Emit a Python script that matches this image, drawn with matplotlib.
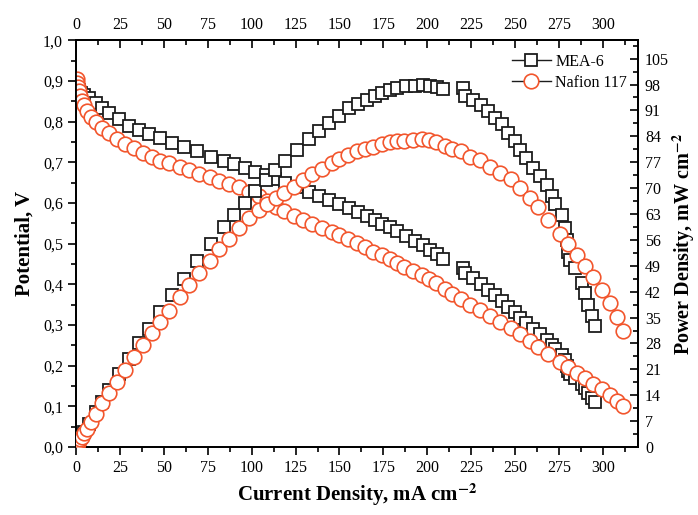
import numpy as np
import matplotlib
matplotlib.use('Agg')
import matplotlib.pyplot as plt
from matplotlib.ticker import MultipleLocator, FuncFormatter
from matplotlib.lines import Line2D

plt.rcParams['font.family'] = ['Liberation Serif', 'DejaVu Serif']
plt.rcParams['mathtext.fontset'] = 'stix'

# --- MEA-6: current density (mA cm-2), potential (V), power density (mW cm-2)
mea_i = [0.5, 1.5, 3.0, 4.6, 7.4, 11.4, 14.8, 18.8, 24.5, 30.0, 35.9, 41.6, 48.0,
         54.8, 61.6, 69.0, 77.0, 84.4, 90.0, 96.0, 102.0, 108.0, 113.5, 118.7,
         126.0, 132.9, 138.6, 144.3, 150.0, 155.7, 160.3, 165.4, 170.0, 174.5,
         178.5, 183.0, 188.0, 192.8, 197.4, 201.4, 205.4, 209.0, 220.4, 221.5,
         226.0, 230.8, 234.7, 238.5, 242.3, 246.0, 249.9, 252.7, 256.5, 260.3,
         264.1, 268.0, 270.8, 272.6, 276.5, 278.3, 279.3, 280.3, 281.2, 284.0,
         287.9, 289.8, 291.7, 293.6, 295.5]
mea_v = [0.885, 0.878, 0.871, 0.866, 0.858, 0.846, 0.834, 0.822, 0.806, 0.790,
         0.780, 0.770, 0.759, 0.748, 0.737, 0.727, 0.714, 0.704, 0.695, 0.686,
         0.677, 0.668, 0.659, 0.650, 0.638, 0.627, 0.617, 0.607, 0.597, 0.588,
         0.578, 0.568, 0.559, 0.549, 0.540, 0.530, 0.519, 0.507, 0.496, 0.485,
         0.474, 0.463, 0.441, 0.428, 0.415, 0.401, 0.387, 0.373, 0.360, 0.345,
         0.331, 0.318, 0.305, 0.290, 0.278, 0.264, 0.251, 0.241, 0.227, 0.213,
         0.200, 0.188, 0.180, 0.170, 0.154, 0.144, 0.132, 0.121, 0.111]
mea_p = [0.4, 1.3, 2.6, 4.0, 6.3, 9.6, 12.3, 15.5, 19.7, 23.7, 28.0, 32.0, 36.4,
         41.0, 45.4, 50.2, 55.0, 59.4, 62.6, 65.9, 69.1, 72.1, 74.8, 77.2, 80.4,
         83.3, 85.5, 87.6, 89.6, 91.6, 92.7, 93.9, 95.0, 95.8, 96.4, 97.0, 97.6,
         97.7, 97.9, 97.7, 97.4, 96.8, 97.2, 94.8, 93.8, 92.6, 90.8, 89.0, 87.2,
         84.9, 82.7, 80.4, 78.2, 75.5, 73.4, 70.8, 68.0, 65.7, 62.8, 59.3, 55.9,
         52.7, 50.6, 48.3, 44.3, 41.7, 38.5, 35.5, 32.8]

# --- Nafion 117
naf_i = [0.3, 0.8, 1.3, 1.8, 2.5, 3.3, 4.5, 6.0, 8.3, 11.2, 15.0, 19.0, 23.3,
         28.0, 33.0, 38.0, 43.0, 48.0, 53.0, 59.0, 64.5, 70.0, 76.0, 81.6, 87.0,
         93.0, 98.5, 104.0, 109.0, 114.0, 118.6, 124.0, 129.5, 134.6, 139.8,
         145.5, 150.0, 154.6, 159.7, 164.3, 168.9, 174.0, 178.5, 183.0, 187.0,
         191.7, 196.8, 201.0, 205.0, 210.0, 214.0, 219.4, 224.2, 229.9, 235.6,
         241.3, 247.9, 252.7, 258.4, 263.1, 268.8, 275.5, 280.3, 285.0, 289.8,
         294.5, 299.3, 304.0, 307.9, 311.6]
naf_v = [0.905, 0.895, 0.885, 0.874, 0.862, 0.851, 0.840, 0.827, 0.812, 0.798,
         0.785, 0.771, 0.758, 0.746, 0.735, 0.723, 0.713, 0.704, 0.697, 0.688,
         0.680, 0.672, 0.663, 0.655, 0.647, 0.638, 0.628, 0.616, 0.604, 0.590,
         0.579, 0.568, 0.558, 0.548, 0.538, 0.528, 0.520, 0.511, 0.501, 0.491,
         0.480, 0.471, 0.462, 0.452, 0.443, 0.433, 0.423, 0.413, 0.402, 0.388,
         0.377, 0.365, 0.350, 0.337, 0.321, 0.307, 0.292, 0.277, 0.261, 0.247,
         0.228, 0.209, 0.196, 0.182, 0.169, 0.156, 0.142, 0.128, 0.114, 0.101]
naf_p = [0.3, 0.7, 1.2, 1.6, 2.2, 2.8, 3.8, 5.0, 6.7, 8.9, 11.8, 14.7, 17.7,
         20.9, 24.3, 27.5, 30.7, 33.8, 36.9, 40.6, 43.9, 47.0, 50.4, 53.5, 56.3,
         59.3, 61.9, 64.1, 65.8, 67.3, 68.7, 70.4, 72.3, 73.8, 75.2, 76.8, 78.0,
         79.0, 80.0, 80.7, 81.1, 82.0, 82.5, 82.7, 82.8, 83.0, 83.2, 83.0, 82.4,
         81.5, 80.7, 80.1, 78.5, 77.5, 75.6, 74.1, 72.4, 70.0, 67.4, 65.0, 61.3,
         57.6, 54.9, 51.9, 49.0, 45.9, 42.5, 38.9, 35.1, 31.5]

x_ticks = [0, 25, 50, 75, 100, 125, 150, 175, 200, 225, 250, 275, 300]

orange = '#F2552C'
dark = '#1c1c1c'

fig = plt.figure(figsize=(6.98, 5.15), dpi=100)
ax = fig.add_axes([0.109, 0.132, 0.805, 0.790])
ax2 = ax.twinx()

sq = dict(marker='s', ms=9.2, mfc='white', mec=dark, mew=1.3, ls='none')
ci = dict(marker='o', ms=10.5, mfc='white', mec=orange, mew=1.2, ls='none')

ax.plot(mea_i, mea_v, **sq, zorder=3)
ax.plot(naf_i, naf_v, **ci, zorder=4)
ax2.plot(mea_i, mea_p, **sq, zorder=3)
ax2.plot(naf_i, naf_p, **ci, zorder=4)

ax.set_xlim(0, 320)
ax.set_ylim(0, 1.0)
ax2.set_ylim(0, 110)

ax.set_xticks(x_ticks)
ax.xaxis.set_minor_locator(MultipleLocator(12.5))
ax.yaxis.set_major_locator(MultipleLocator(0.1))
ax.yaxis.set_minor_locator(MultipleLocator(0.05))
ax.yaxis.set_major_formatter(FuncFormatter(lambda v, p: f"{v:.1f}".replace('.', ',')))
ax2.yaxis.set_major_locator(MultipleLocator(7))
ax2.yaxis.set_minor_locator(MultipleLocator(3.5))

ax.tick_params(which='both', direction='out', width=1.2, labelsize=11.5, right=False)
ax.tick_params(which='major', length=6)
ax.tick_params(which='minor', length=3.5)
ax2.tick_params(which='both', direction='in', width=1.2, labelsize=11.5, pad=5)
ax2.tick_params(which='major', length=6)
ax2.tick_params(which='minor', length=3.5)

top = ax.secondary_xaxis('top')
top.set_xticks(x_ticks)
top.xaxis.set_minor_locator(MultipleLocator(12.5))
top.tick_params(which='both', direction='in', width=1.2, labelsize=11.5, pad=5)
top.tick_params(which='major', length=6)
top.tick_params(which='minor', length=3.5)

for a in (ax, ax2):
    for s in a.spines.values():
        s.set_linewidth(1.3)
for s in top.spines.values():
    s.set_linewidth(1.3)

ax.set_xlabel(r'Current Density, mA cm$^{\mathbf{-2}}$', fontsize=15, fontweight='bold', labelpad=4)
ax.set_ylabel('Potential, V', fontsize=15, fontweight='bold', labelpad=6)
ax2.set_ylabel(r'Power Density, mW cm$^{\mathbf{-2}}$', fontsize=14.5, fontweight='bold', labelpad=1)

handles = [Line2D([], [], color=dark, lw=1.0, **{k: v for k, v in sq.items() if k != 'ls'}),
           Line2D([], [], color=dark, lw=1.0, **{k: v for k, v in ci.items() if k != 'ls'})]
ax2.legend(handles, ['MEA-6', 'Nafion 117'], loc='upper right', bbox_to_anchor=(0.998, 0.99),
           frameon=False, fontsize=11.5, handlelength=2.4, handletextpad=0.3, labelspacing=0.3,
           borderaxespad=0.2)

fig.savefig('out.png', dpi=100)
